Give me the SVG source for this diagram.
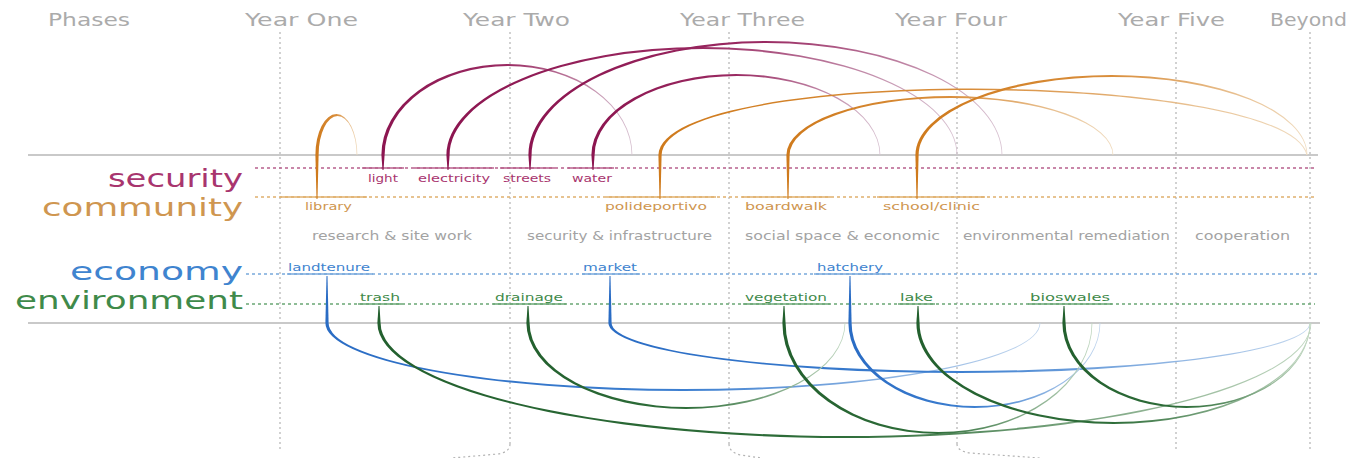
<svg xmlns="http://www.w3.org/2000/svg" width="1351" height="458" viewBox="0 0 1351 458">
<style>
text{font-family:"DejaVu Sans","Liberation Sans",sans-serif}
.hdr{font-size:18px;fill:#ababab}
.cat{font-size:24px}
.lbl{font-size:11px}
.ph{font-size:11.5px;fill:#a3a3a3}
.vgrid{stroke:#b3b3b3;stroke-width:1.2;stroke-dasharray:2 3;fill:none}
.hgrid{stroke:#c9c9c9;stroke-width:2;fill:none}
.row{stroke-width:1.3;stroke-dasharray:3 3;fill:none}
.seg{stroke-width:1.4;fill:none}
.sec{fill:#a8356e}.com{fill:#cf9650}.eco{fill:#3f84cf}.env{fill:#3f8a4a}
.secS{stroke:#b8608d}.comS{stroke:#e0b06e}.ecoS{stroke:#78a9dc}.envS{stroke:#6aa774}
.stemM{fill:#8c1550}.stemO{fill:#cf7a1c}.stemB{fill:#2a6cc4}.stemG{fill:#23602e}
</style>
<defs>
<linearGradient id="gM" x1="0" y1="0" x2="1" y2="0"><stop offset="0" stop-color="#8c1550"/><stop offset="0.5" stop-color="#9a2a62"/><stop offset="1" stop-color="#d8c3d2"/></linearGradient>
<linearGradient id="gO" x1="0" y1="0" x2="1" y2="0"><stop offset="0" stop-color="#cf7a1c"/><stop offset="0.5" stop-color="#d98e3c"/><stop offset="1" stop-color="#f0dcc0"/></linearGradient>
<linearGradient id="gB" x1="0" y1="0" x2="1" y2="0"><stop offset="0" stop-color="#2a6cc4"/><stop offset="0.5" stop-color="#3d7fd0"/><stop offset="1" stop-color="#c3d7ee"/></linearGradient>
<linearGradient id="gG" x1="0" y1="0" x2="1" y2="0"><stop offset="0" stop-color="#23602e"/><stop offset="0.5" stop-color="#2f6e3a"/><stop offset="1" stop-color="#c2d8c2"/></linearGradient>
</defs>
<rect width="1351" height="458" fill="#ffffff"/>

<g id="grid">
<line class="vgrid" x1="280" y1="32" x2="280" y2="450"/>
<line class="vgrid" x1="510" y1="32" x2="510" y2="444"/>
<line class="vgrid" x1="729" y1="32" x2="729" y2="444"/>
<line class="vgrid" x1="957" y1="32" x2="957" y2="444"/>
<line class="vgrid" x1="1176" y1="32" x2="1176" y2="450"/>
<line class="vgrid" x1="1310" y1="32" x2="1310" y2="450"/>
<path class="vgrid" d="M510,444 Q510,452 498,454 L452,458"/>
<path class="vgrid" d="M729,444 Q729,452 740,455 L762,458"/>
<path class="vgrid" d="M957,444 Q957,451 970,453 L1040,458"/>
<line class="hgrid" x1="28" y1="155" x2="1318" y2="155"/>
<line class="hgrid" x1="28" y1="323" x2="1320" y2="323"/>
<line class="row secS" x1="255" y1="168" x2="1315" y2="168"/>
<line class="row comS" x1="255" y1="197" x2="1315" y2="197"/>
<line class="row ecoS" x1="246" y1="274" x2="1320" y2="274"/>
<line class="row envS" x1="246" y1="304" x2="1315" y2="304"/>
</g>

<g id="headers">
<text class="hdr" x="48" y="26" textLength="82" lengthAdjust="spacingAndGlyphs">Phases</text>
<text class="hdr" x="245" y="26" textLength="113" lengthAdjust="spacingAndGlyphs">Year One</text>
<text class="hdr" x="463" y="26" textLength="107" lengthAdjust="spacingAndGlyphs">Year Two</text>
<text class="hdr" x="680" y="26" textLength="125" lengthAdjust="spacingAndGlyphs">Year Three</text>
<text class="hdr" x="895" y="26" textLength="112" lengthAdjust="spacingAndGlyphs">Year Four</text>
<text class="hdr" x="1118" y="26" textLength="107" lengthAdjust="spacingAndGlyphs">Year Five</text>
<text class="hdr" x="1270" y="26" textLength="77" lengthAdjust="spacingAndGlyphs">Beyond</text>
</g>

<g id="categories">
<text class="cat sec" x="108" y="187" textLength="135" lengthAdjust="spacingAndGlyphs">security</text>
<text class="cat com" x="42" y="216" textLength="201" lengthAdjust="spacingAndGlyphs">community</text>
<text class="cat eco" x="70" y="280" textLength="173" lengthAdjust="spacingAndGlyphs">economy</text>
<text class="cat env" x="15" y="309" textLength="228" lengthAdjust="spacingAndGlyphs">environment</text>
</g>

<g id="phases">
<text class="ph" x="312" y="240" textLength="160" lengthAdjust="spacingAndGlyphs">research &amp; site work</text>
<text class="ph" x="527" y="240" textLength="185" lengthAdjust="spacingAndGlyphs">security &amp; infrastructure</text>
<text class="ph" x="745" y="240" textLength="195" lengthAdjust="spacingAndGlyphs">social space &amp; economic</text>
<text class="ph" x="963" y="240" textLength="207" lengthAdjust="spacingAndGlyphs">environmental remediation</text>
<text class="ph" x="1195" y="240" textLength="95" lengthAdjust="spacingAndGlyphs">cooperation</text>
</g>

<g id="connectors">
<path fill="url(#gO)" d="M315.4,155 A21,41 0 0 1 357.4,155 L356.6,155 A19,39 0 0 0 318.6,155 Z"/>
<path fill="url(#gM)" d="M381.4,155 A125.5,91 0 0 1 632.4,155 L631.6,155 A123.5,89 0 0 0 384.6,155 Z"/>
<path fill="url(#gM)" d="M446.4,155 A255.5,108 0 0 1 957.4,155 L956.6,155 A253.5,106 0 0 0 449.6,155 Z"/>
<path fill="url(#gM)" d="M528.4,155 A237,114 0 0 1 1002.4,155 L1001.6,155 A235,112 0 0 0 531.6,155 Z"/>
<path fill="url(#gM)" d="M591.4,155 A144.5,81 0 0 1 880.4,155 L879.6,155 A142.5,79 0 0 0 594.6,155 Z"/>
<path fill="url(#gO)" d="M658.4,155 C663,64 1290,69 1307.4,155 L1306.6,155 C1288,71 666,66 661.6,155 Z"/>
<path fill="url(#gO)" d="M786.4,155 A163.5,59 0 0 1 1113.4,155 L1112.6,155 A161.5,57 0 0 0 789.6,155 Z"/>
<path fill="url(#gO)" d="M915.4,155 A196,80 0 0 1 1307.4,155 L1306.6,155 A194,78 0 0 0 918.6,155 Z"/>
<path fill="url(#gB)" d="M325.4,323 A357.5,68 0 0 0 1040.4,323 L1039.6,323 A355.5,66 0 0 1 328.6,323 Z"/>
<path fill="url(#gB)" d="M608.4,323 A351,50 0 0 0 1310.4,323 L1309.6,323 A349,48 0 0 1 611.6,323 Z"/>
<path fill="url(#gB)" d="M848.4,323 A126,85 0 0 0 1100.4,323 L1099.6,323 A124,83 0 0 1 851.6,323 Z"/>
<path fill="url(#gG)" d="M377.4,323 A467,115 0 0 0 1311.4,323 L1310.6,323 A465,113 0 0 1 380.6,323 Z"/>
<path fill="url(#gG)" d="M526.4,323 A159.5,86 0 0 0 845.4,323 L844.6,323 A157.5,84 0 0 1 529.6,323 Z"/>
<path fill="url(#gG)" d="M782.4,323 A155,111 0 0 0 1092.4,323 L1091.6,323 A153,109 0 0 1 785.6,323 Z"/>
<path fill="url(#gG)" d="M916.4,323 A197,101 0 0 0 1310.4,323 L1309.6,323 A195,99 0 0 1 919.6,323 Z"/>
<path fill="url(#gG)" d="M1062.4,323 A124,85 0 0 0 1310.4,323 L1309.6,323 A122,83 0 0 1 1065.6,323 Z"/>
</g>

<g id="node-light"><line class="seg secS" x1="362" y1="168" x2="404" y2="168"/><polygon class="stemM" points="381.4,155 384.6,155 383.5,170 382.5,170"/><text class="lbl sec" x="368" y="182" textLength="30" lengthAdjust="spacingAndGlyphs">light</text></g>
<g id="node-electricity"><line class="seg secS" x1="414" y1="168" x2="494" y2="168"/><polygon class="stemM" points="446.4,155 449.6,155 448.5,170 447.5,170"/><text class="lbl sec" x="418" y="182" textLength="72" lengthAdjust="spacingAndGlyphs">electricity</text></g>
<g id="node-streets"><line class="seg secS" x1="500" y1="168" x2="555" y2="168"/><polygon class="stemM" points="528.4,155 531.6,155 530.5,170 529.5,170"/><text class="lbl sec" x="503" y="182" textLength="48" lengthAdjust="spacingAndGlyphs">streets</text></g>
<g id="node-water"><line class="seg secS" x1="568" y1="168" x2="614" y2="168"/><polygon class="stemM" points="591.4,155 594.6,155 593.5,170 592.5,170"/><text class="lbl sec" x="572" y="182" textLength="40" lengthAdjust="spacingAndGlyphs">water</text></g>

<g id="node-library"><line class="seg comS" x1="280" y1="197" x2="367" y2="197"/><polygon class="stemO" points="315.4,155 318.6,155 317.5,199 316.5,199"/><text class="lbl com" x="305" y="210" textLength="47" lengthAdjust="spacingAndGlyphs">library</text></g>
<g id="node-polideportivo"><line class="seg comS" x1="606" y1="197" x2="716" y2="197"/><polygon class="stemO" points="658.4,155 661.6,155 660.5,199 659.5,199"/><text class="lbl com" x="605" y="210" textLength="102" lengthAdjust="spacingAndGlyphs">polideportivo</text></g>
<g id="node-boardwalk"><line class="seg comS" x1="742" y1="197" x2="831" y2="197"/><polygon class="stemO" points="786.4,155 789.6,155 788.5,199 787.5,199"/><text class="lbl com" x="745" y="210" textLength="82" lengthAdjust="spacingAndGlyphs">boardwalk</text></g>
<g id="node-school-clinic"><line class="seg comS" x1="877" y1="197" x2="985" y2="197"/><polygon class="stemO" points="915.4,155 918.6,155 917.5,199 916.5,199"/><text class="lbl com" x="883" y="210" textLength="97" lengthAdjust="spacingAndGlyphs">school/clinic</text></g>

<g id="node-landtenure"><line class="seg ecoS" x1="287" y1="274" x2="373" y2="274"/><polygon class="stemB" points="325.4,323 328.6,323 327.5,276 326.5,276"/><text class="lbl eco" x="288" y="271" textLength="82" lengthAdjust="spacingAndGlyphs">landtenure</text></g>
<g id="node-market"><line class="seg ecoS" x1="582" y1="274" x2="640" y2="274"/><polygon class="stemB" points="608.4,323 611.6,323 610.5,276 609.5,276"/><text class="lbl eco" x="583" y="271" textLength="54" lengthAdjust="spacingAndGlyphs">market</text></g>
<g id="node-hatchery"><line class="seg ecoS" x1="814" y1="274" x2="890" y2="274"/><polygon class="stemB" points="848.4,323 851.6,323 850.5,276 849.5,276"/><text class="lbl eco" x="817" y="271" textLength="66" lengthAdjust="spacingAndGlyphs">hatchery</text></g>

<g id="node-trash"><line class="seg envS" x1="358" y1="304" x2="402" y2="304"/><polygon class="stemG" points="377.4,323 380.6,323 379.5,306 378.5,306"/><text class="lbl env" x="360" y="301" textLength="40" lengthAdjust="spacingAndGlyphs">trash</text></g>
<g id="node-drainage"><line class="seg envS" x1="493" y1="304" x2="566" y2="304"/><polygon class="stemG" points="526.4,323 529.6,323 528.5,306 527.5,306"/><text class="lbl env" x="495" y="301" textLength="68" lengthAdjust="spacingAndGlyphs">drainage</text></g>
<g id="node-vegetation"><line class="seg envS" x1="743" y1="304" x2="830" y2="304"/><polygon class="stemG" points="782.4,323 785.6,323 784.5,306 783.5,306"/><text class="lbl env" x="745" y="301" textLength="82" lengthAdjust="spacingAndGlyphs">vegetation</text></g>
<g id="node-lake"><line class="seg envS" x1="898" y1="304" x2="935" y2="304"/><polygon class="stemG" points="916.4,323 919.6,323 918.5,306 917.5,306"/><text class="lbl env" x="900" y="301" textLength="33" lengthAdjust="spacingAndGlyphs">lake</text></g>
<g id="node-bioswales"><line class="seg envS" x1="1028" y1="304" x2="1112" y2="304"/><polygon class="stemG" points="1062.4,323 1065.6,323 1064.5,306 1063.5,306"/><text class="lbl env" x="1030" y="301" textLength="80" lengthAdjust="spacingAndGlyphs">bioswales</text></g>
</svg>
